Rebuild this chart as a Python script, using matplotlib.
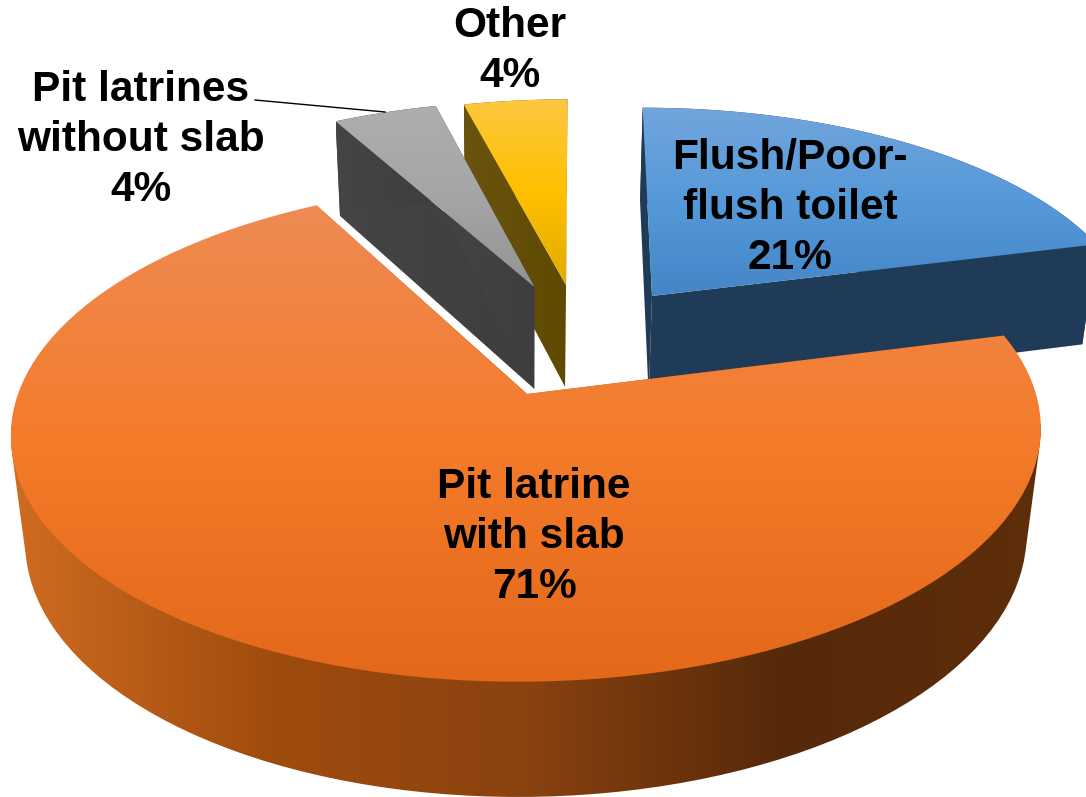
import numpy as np
import matplotlib
matplotlib.use("Agg")
import matplotlib.pyplot as plt
from matplotlib.colors import LinearSegmentedColormap
from matplotlib.patches import Polygon

plt.rcParams['font.family'] = ['Liberation Sans', 'DejaVu Sans']

# chart data
labels = ["Flush/Poor-\nflush toilet", "Pit latrine\nwith slab", "Pit latrines\nwithout slab", "Other"]
values = [21, 71, 4, 4]

# look of each slice: explode offset, top colours, wall colours
offsets = [(0.255, 0.428), (0.0, 0.0), (0.0085, 0.47), (0.075, 0.479)]
top_colors = [
    ["#72A5DC", "#5599D9", "#4485C6"],
    ["#EE8B53", "#F47B2A", "#E3681A"],
    ["#AEAEAE", "#A5A5A5", "#939393"],
    ["#FDC740", "#FFC000", "#E0AC00"],
]
wall_colors = [
    ["#1F3B57", "#1F3B57"],
    ["#D06C20", "#A04C0E", "#8A4210", "#55290A", "#5F2E0B"],
    ["#454545", "#3E3E3E"],
    ["#6A530F", "#5F4A00"],
]
text_pos = [(790, 208), (534, 537), (141, 140), (510, 51)]

# perspective of the pie plane, in image pixels
cx, cy = 527, 394
A, B, C = 509, 244, 109
k, m, s = 0.152, 0.028, 7.7


def project(x, y, z=0.0):
    w = 1 + k * y - m * z
    return cx + (A * x + s * y) / w, cy - (B * y + C * z) / w


def hull(pts):
    # convex outline, so the wall keeps its straight sides at the silhouette
    pts = sorted(set(pts))

    def half(seq):
        out = []
        for p in seq:
            while len(out) > 1 and ((out[-1][0] - out[-2][0]) * (p[1] - out[-2][1])
                                    - (out[-1][1] - out[-2][1]) * (p[0] - out[-2][0])) <= 0:
                out.pop()
            out.append(p)
        return out[:-1]

    return half(pts) + half(pts[::-1])


def fill_face(ax, pts, colors, vertical=True):
    pts = np.array(pts)
    cmap = LinearSegmentedColormap.from_list("face", colors)
    grad = np.linspace(0, 1, 256)
    grad = grad[:, None] if vertical else grad[None, :]
    x0, x1 = pts[:, 0].min(), pts[:, 0].max()
    y0, y1 = pts[:, 1].min(), pts[:, 1].max()
    im = ax.imshow(grad, cmap=cmap, extent=(x0, x1, y1, y0), aspect='auto', zorder=ax.nz)
    clip = Polygon(pts, closed=True, transform=ax.transData, fill=False, lw=0)
    ax.add_patch(clip)
    im.set_clip_path(clip)
    ax.nz += 1


fig = plt.figure(figsize=(10.86, 7.97), dpi=100)
ax = fig.add_axes([0, 0, 1, 1])
ax.nz = 1

# slice angles, clockwise from 12 o'clock
fracs = np.array(values) / sum(values)
ends = 90 - np.cumsum(fracs) * 360
starts = ends + fracs * 360

for i in [0, 3, 2, 1]:
    th = np.radians(np.linspace(starts[i], ends[i], 120))
    ox, oy = offsets[i]
    xs, ys = ox + np.cos(th), oy + np.sin(th)
    top_arc = [project(a, b, 0) for a, b in zip(xs, ys)]
    low_arc = [project(a, b, -1) for a, b in zip(xs, ys)]
    apex_t = project(ox, oy, 0)
    apex_b = project(ox, oy, -1)
    # radial walls and outer wall
    fill_face(ax, [apex_t, top_arc[0], low_arc[0], apex_b], wall_colors[i], vertical=False)
    fill_face(ax, [apex_t, top_arc[-1], low_arc[-1], apex_b], wall_colors[i], vertical=False)
    # a slice over half the pie only shows the wall of its front part
    front = np.sin(th) < -0.1 if fracs[i] > 0.5 else np.ones(len(th), bool)
    wall = [p for p, f in zip(top_arc + low_arc, list(front) * 2) if f]
    fill_face(ax, hull(wall), wall_colors[i], vertical=False)
    fill_face(ax, [apex_t] + top_arc, top_colors[i])

# leader line of the small slice
ax.plot([255, 385], [100, 112], color="black", lw=1, zorder=ax.nz)

for name, val, (tx, ty) in zip(labels, values, text_pos):
    ax.text(tx, ty, f"{name}\n{val}%", ha="center", va="center", fontsize=30.5,
            fontweight="bold", linespacing=1.32, color="black", zorder=ax.nz + 1)

ax.set_xlim(0, 1086)
ax.set_ylim(797, 0)
ax.axis("off")
fig.savefig("out.png", dpi=100)
